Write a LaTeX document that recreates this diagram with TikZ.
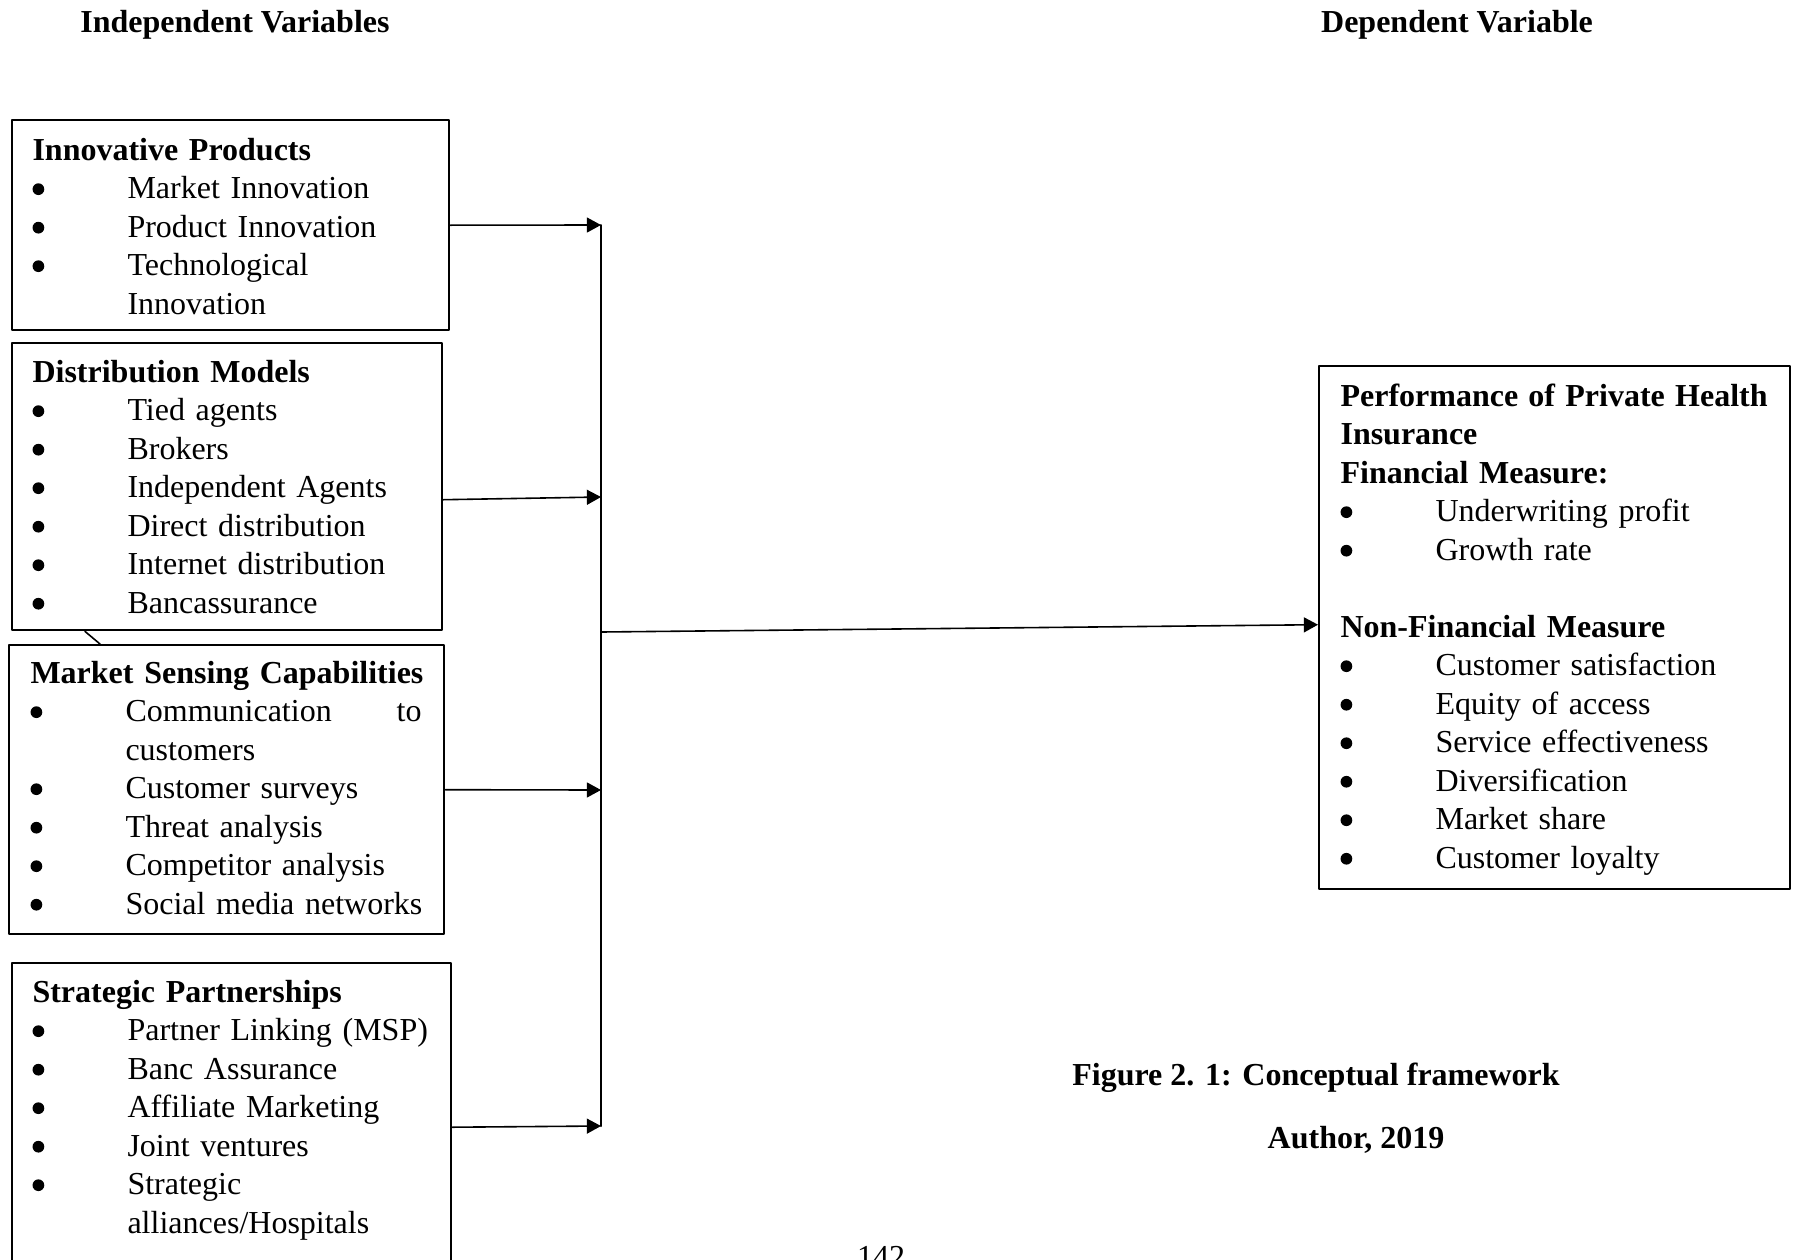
\documentclass[tikz,border=0pt]{standalone}
\usepackage{fontspec}
\setmainfont{Liberation Serif}
\usetikzlibrary{arrows.meta}
\newdimen\px \px=0.375pt
\hyphenpenalty=10000
\exhyphenpenalty=10000
% bullet line with hanging indent
\newcommand{\dotmark}{\raisebox{1.3pt}{\tikz\fill (0,0) circle (2.2pt);}}
\newcommand{\bitem}[1]{\par\noindent\hangindent=95\px\hangafter=1\makebox[95\px][l]{\dotmark}#1}
\begin{document}
\begin{tikzpicture}[x=0.375pt,y=-0.375pt,line cap=round,line join=round,
		>={Triangle[length=5.3pt,width=5.6pt]},
		frame/.style={draw,line width=0.9pt,anchor=north west,inner sep=0pt},
		list/.style={anchor=base west,inner sep=0pt,align=left,
			font=\fontsize{12pt}{14.44pt}\selectfont},
		title/.style={anchor=base,inner sep=0pt,
			font=\fontsize{12pt}{14.44pt}\selectfont\bfseries},
		arr/.style={->,line width=0.6pt}]
	\useasboundingbox[fill=white] (0,0) rectangle (1796,1259); %khung trang
	% Tiêu đề hai cột
	\node[title] (indep) at (235,33) {Independent Variables};
	\node[title] (dep) at (1457,33) {Dependent Variable};
	% Các biến độc lập
	\node[frame,minimum width=437\px,minimum height=210\px] (prod) at (11,119) {};
	\node[list,text width=410\px] (prodlist) at (32,160) {\textbf{Innovative Products}
		\bitem{Market Innovation}
		\bitem{Product Innovation}
		\bitem{Technological\newline Innovation}\par};
	\node[frame,minimum width=430\px,minimum height=287\px] (dist) at (11,342) {};
	\node[list,text width=405\px] (distlist) at (32,382) {\textbf{Distribution Models}
		\bitem{Tied agents}
		\bitem{Brokers}
		\bitem{Independent Agents}
		\bitem{Direct distribution}
		\bitem{Internet distribution}
		\bitem{Bancassurance}\par};
	\node[frame,minimum width=435\px,minimum height=289\px] (sense) at (8,644) {};
	\node[list,text width=410\px] (senselist) at (30,683) {\textbf{Market Sensing Capabilities}
		\bitem{\makebox[296\px][l]{Communication\hfill to}\newline customers}
		\bitem{Customer surveys}
		\bitem{Threat analysis}
		\bitem{Competitor analysis}
		\bitem{Social media networks}\par};
	\node[frame,minimum width=439\px,minimum height=328\px] (part) at (11,962) {};
	\node[list,text width=415\px] (partlist) at (32,1002) {\textbf{Strategic Partnerships}
		\bitem{Partner Linking (MSP)}
		\bitem{Banc Assurance}
		\bitem{Affiliate Marketing}
		\bitem{Joint ventures}
		\bitem{Strategic\newline alliances/Hospitals}\par};
	% Biến phụ thuộc
	\node[frame,minimum width=471\px,minimum height=523\px] (perf) at (1318,365) {};
	\node[list,text width=445\px] (perflist) at (1340,406) {%
		\makebox[427\px][l]{\textbf{Performance\hfill of\hfill Private\hfill Health}}
		\par\textbf{Insurance}
		\par\textbf{Financial Measure:}
		\bitem{Underwriting profit}
		\bitem{Growth rate}
		\par\vspace{14.44pt}\textbf{Non-Financial Measure}
		\bitem{Customer satisfaction}
		\bitem{Equity of access}
		\bitem{Service effectiveness}
		\bitem{Diversification}
		\bitem{Market share}
		\bitem{Customer loyalty}\par};
	% Đường gom và các mũi tên
	\coordinate (bustop) at (601,225);
	\coordinate (bus2) at (601,497);
	\coordinate (bus3) at (601,790);
	\coordinate (busout) at (601,632);
	\coordinate (busbot) at (601,1126);
	\draw[line width=0.75pt] (bustop) -- (busbot);
	\draw[arr] (prod.east) -- (bustop);
	\draw[arr] ([shift={(0,13)}]dist.east) -- (bus2);
	\draw[arr] (sense.east) -- (bus3);
	\draw[arr] (part.east) -- (busbot);
	\draw[arr] (busout) -- ([shift={(0,-3)}]perf.west);
	\draw[line width=0.6pt] ([shift={(74,0)}]dist.south west) -- ([shift={(92,0)}]sense.north west);
	% Chú thích hình
	\node[title] (fig) at (1316,1085) {Figure 2. 1: Conceptual framework};
	\node[title] (src) at (1356,1148) {Author, 2019};
	\node[title,font=\fontsize{12pt}{14.44pt}\selectfont] (pagenum) at (881,1267) {142};
\end{tikzpicture}
\end{document}
